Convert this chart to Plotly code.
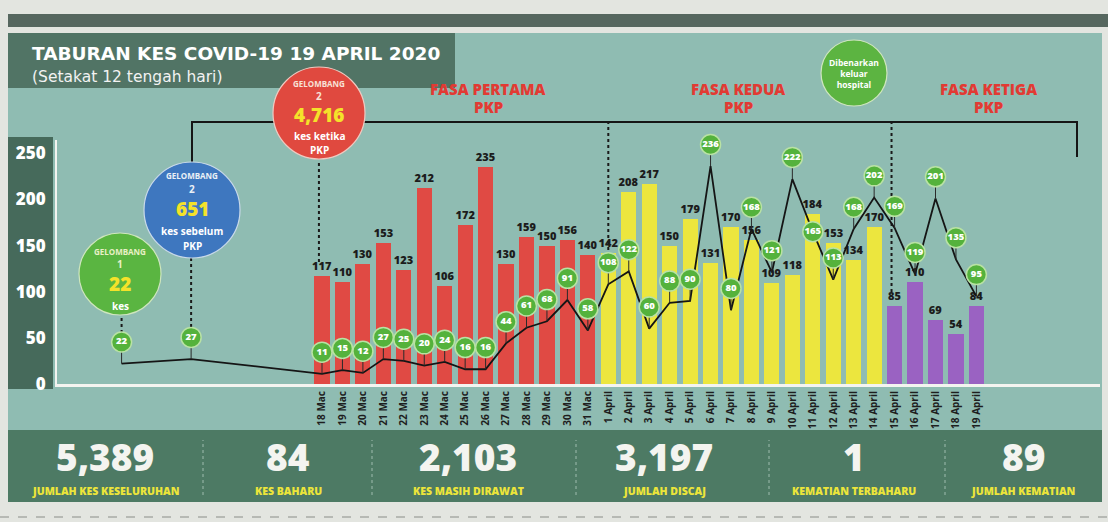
import plotly.graph_objects as go

# ---------------- data ----------------
dates = ["18 Mac", "19 Mac", "20 Mac", "21 Mac", "22 Mac", "23 Mac", "24 Mac",
         "25 Mac", "26 Mac", "27 Mac", "28 Mac", "29 Mac", "30 Mac", "31 Mac",
         "1 April", "2 April", "3 April", "4 April", "5 April", "6 April", "7 April",
         "8 April", "9 April", "10 April", "11 April", "12 April", "13 April",
         "14 April", "15 April", "16 April", "17 April", "18 April", "19 April"]
new_cases = [117, 110, 130, 153, 123, 212, 106, 172, 235, 130, 159, 150, 156, 140,
             142, 208, 217, 150, 179, 131, 170, 156, 109, 118, 184, 153, 134, 170,
             85, 110, 69, 54, 84]
discharged = [11, 15, 12, 27, 25, 20, 24, 16, 16, 44, 61, 68, 91, 58,
              108, 122, 60, 88, 90, 236, 80, 168, 121, 222, 165, 113, 168, 202,
              169, 119, 201, 135, 95]
phase_start = {"PERTAMA": 0, "KEDUA": 14, "KETIGA": 28}
# earlier discharge points (day offsets relative to 18 Mac)
gel_x = [-9.8, -6.4]
gel_discharged = [22, 27]

stat_values = ["5,389", "84", "2,103", "3,197", "1", "89"]
stat_labels = ["JUMLAH KES KESELURUHAN", "KES BAHARU", "KES MASIH DIRAWAT",
               "JUMLAH DISCAJ", "KEMATIAN TERBAHARU", "JUMLAH KEMATIAN"]

# ---------------- geometry helpers ----------------
W, H = 1108, 522
L, R, T, B = 57, 8, 140, 138
PW, PH = W - L - R, H - T - B
STEP = 20.45                     # px per day
XMIN = -(322 - L) / STEP
XMAX = XMIN + PW / STEP
YMAX = PH / 0.923
OFF = 23.5                       # bubble lift (data units)

def PX(x):
    return (x - L) / PW

def PY(y):
    return (H - B - y) / PH

FONT = "Open Sans"
WIDE = "DejaVu Sans"
RED = "#e04a44"
YEL = "#ece63e"
PUR = "#9a62c2"
GRN = "#54b23c"

x_idx = list(range(len(dates)))
bar_colors = []
for i in x_idx:
    if i >= phase_start["KETIGA"]:
        bar_colors.append(PUR)
    elif i >= phase_start["KEDUA"]:
        bar_colors.append(YEL)
    else:
        bar_colors.append(RED)

line_x = gel_x + x_idx
line_y = gel_discharged + discharged
bar_at = [None] * len(gel_x) + new_cases

# lift each bubble above its point unless it would collide with a bar label
lifts = []
for v, b in zip(line_y, bar_at):
    if b is not None and abs(v + OFF - (b + 10)) < 18:
        lifts.append(0)
    else:
        lifts.append(OFF)

fig = go.Figure()
fig.add_trace(go.Bar(
    x=x_idx, y=new_cases, width=0.74, marker=dict(color=bar_colors, line=dict(width=0)),
    text=[str(v) for v in new_cases], textposition="outside", cliponaxis=False,
    constraintext="none",
    textfont=dict(family=FONT, size=11, color="#1c1c1c", weight=800),
    hoverinfo="skip", showlegend=False))
fig.add_trace(go.Scatter(
    x=line_x, y=line_y, mode="lines", line=dict(color="#151515", width=1.8),
    hoverinfo="skip", showlegend=False))
fig.add_trace(go.Scatter(
    x=line_x, y=[v + d for v, d in zip(line_y, lifts)], mode="markers+text",
    marker=dict(size=20, color=GRN, line=dict(color="#b9e2a4", width=1.5)),
    text=[str(v) for v in line_y], textposition="middle center",
    textfont=dict(family=FONT, size=9.5, color="white", weight=800),
    error_y=dict(type="data", symmetric=False, array=[0] * len(line_y),
                 arrayminus=lifts, thickness=1, width=0, color="#2a2a2a"),
    cliponaxis=False, hoverinfo="skip", showlegend=False))

shapes = []

def rect(x0, y0, x1, y1, color):
    shapes.append(dict(type="rect", xref="paper", yref="paper", layer="below",
                       x0=PX(x0), x1=PX(x1), y0=PY(y1), y1=PY(y0),
                       fillcolor=color, line=dict(width=0)))

def circle(cx, cy, r, color, edge):
    shapes.append(dict(type="circle", xref="paper", yref="paper", layer="below",
                       x0=PX(cx - r), x1=PX(cx + r), y0=PY(cy + r), y1=PY(cy - r),
                       fillcolor=color, line=dict(color=edge, width=1.2)))

def vdot_data(xd, ytop, ybot):
    shapes.append(dict(type="line", xref="x", yref="paper", layer="below",
                       x0=xd, x1=xd, y0=PY(ybot), y1=PY(ytop),
                       line=dict(color="#1a1a1a", width=2, dash="dot")))

# background panels
rect(8, 14, 1108, 27, "#56675f")
rect(8, 33, 1102, 430, "#8fbcb2")
rect(8, 33, 455, 88, "#517465")
rect(8, 137, 53, 389, "#466a5b")
rect(8, 430, 1102, 502, "#4d7a64")
for xd in [203, 372, 576, 769, 945]:
    shapes.append(dict(type="line", xref="paper", yref="paper", layer="below",
                       x0=PX(xd), x1=PX(xd), y0=PY(495), y1=PY(440),
                       line=dict(color="#9fbcae", width=1, dash="dot")))
shapes.append(dict(type="line", xref="paper", yref="paper", layer="below",
                   x0=PX(0), x1=PX(1108), y0=PY(517), y1=PY(517),
                   line=dict(color="#8a8d88", width=1, dash="dash")))

# bracket
shapes.append(dict(type="path", xref="paper", yref="paper", layer="below",
                   path=f"M {PX(192)},{PY(162)} L {PX(192)},{PY(122)} L {PX(1077)},{PY(122)} L {PX(1077)},{PY(157)}",
                   line=dict(color="#151515", width=2)))
# dotted guides
vdot_data(gel_x[0], 315, 333)
vdot_data(gel_x[1], 258, 327)
vdot_data(phase_start["PERTAMA"] - 0.15, 160, 262)
vdot_data(phase_start["KEDUA"], 122, 250)
vdot_data(phase_start["KETIGA"] - 0.15, 122, 292)

# bubbles
circle(120, 274, 41, "#5ab541", "#cfe6bd")
circle(192, 210, 48, "#3e77bf", "#c9d9ea")
circle(319, 113, 46, "#e0493f", "#f0c9c0")
circle(854, 73, 33, "#5cb441", "#cfe6bd")

fig.update_layout(shapes=shapes)

ann = []

def text(px, py, s, size, color="white", weight=700, xanchor="center", family=FONT):
    ann.append(dict(xref="paper", yref="paper", x=PX(px), y=PY(py), text=s,
                    showarrow=False, xanchor=xanchor, yanchor="middle",
                    font=dict(family=family, size=size, color=color, weight=weight)))

# title
text(30, 53, "TABURAN KES COVID-19 19 APRIL 2020", 18.5, "white", 800, "left", WIDE)
text(30, 77, "(Setakat 12 tengah hari)", 15.5, "#f2f2f2", 400, "left", WIDE)

# gelombang bubbles
text(120, 251, "GELOMBANG", 8, "#e9f0c6", 700)
text(120, 264, "1", 10, "#e9f0c6", 700)
text(120, 284, "22", 19, "#f4e22a", 800)
text(120, 306, "kes", 10, "white", 700)

text(192, 175, "GELOMBANG", 8, "#eaf0f6", 700)
text(192, 189, "2", 10, "#eaf0f6", 700)
text(192, 209, "651", 19, "#f4e22a", 800)
text(192, 231, "kes sebelum", 10, "white", 700)
text(192, 246, "PKP", 10, "white", 700)

text(319, 83, "GELOMBANG", 8, "#f7e1d7", 700)
text(319, 96, "2", 10, "#f7e1d7", 700)
text(319, 115, "4,716", 19, "#f4e22a", 800)
text(319, 136, "kes ketika", 10, "white", 700)
text(319, 150, "PKP", 10, "white", 700)

text(854, 73, "Dibenarkan<br>keluar<br>hospital", 8.5, "white", 700)

# phase labels
for cx, name in [(488, "FASA PERTAMA"), (738, "FASA KEDUA"), (988, "FASA KETIGA")]:
    text(cx, 89, name, 15, "#e23a33", 800)
    text(cx, 107, "PKP", 15, "#e23a33", 800)

# stats
stat_cx = [105, 288, 468, 664, 854, 1023]
for cx, v, lab in zip(stat_cx, stat_values, stat_labels):
    text(cx, 456, v, 37, "#f4f4f0", 800)
    text(cx, 491, lab, 10.5, "#ece53a", 800)

fig.update_layout(annotations=ann)

fig.update_layout(
    width=W, height=H,
    margin=dict(l=L, r=R, t=T, b=B, pad=0),
    paper_bgcolor="#e3e5e0", plot_bgcolor="rgba(0,0,0,0)",
    bargap=0,
    xaxis=dict(range=[XMIN, XMAX], tickmode="array", tickvals=x_idx, ticktext=dates,
               tickangle=-90, ticks="", showgrid=False, zeroline=False,
               showline=True, linecolor="#f4f4f0", linewidth=3,
               tickfont=dict(family=FONT, size=10, color="#1e1e1e", weight=700)),
    yaxis=dict(range=[0, YMAX], tickmode="array", tickvals=[0, 50, 100, 150, 200, 250],
               ticks="", showgrid=False, zeroline=False,
               showline=True, linecolor="#f4f4f0", linewidth=2, ticklabelstandoff=6,
               tickfont=dict(family=FONT, size=17, color="white", weight=800)),
)

fig.write_html("out.html")
